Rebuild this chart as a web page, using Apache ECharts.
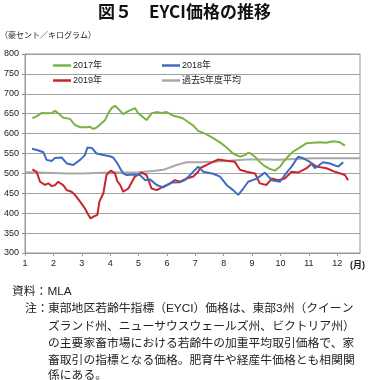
<!DOCTYPE html>
<html><head><meta charset="utf-8">
<script src="https://cdn.jsdelivr.net/npm/echarts@6/dist/echarts.min.js"></script>
<style>html,body{margin:0;padding:0;background:#fff}#c{width:369px;height:380px}</style>
</head><body><div id="c"></div>
<script>
const xTicks = [1,2,3,4,5,6,7,8,9,10,11,12];
const yTicks = [300,350,400,450,500,550,600,650,700,750,800];

const x2017 = [1.26,1.45,1.59,1.8,1.95,2.06,2.17,2.35,2.58,2.76,2.94,3.15,3.29,3.4,3.5,3.64,3.82,3.93,4.05,4.17,4.26,4.46,4.6,4.87,4.99,5.15,5.28,5.46,5.64,5.8,5.99,6.22,6.45,6.57,6.81,6.93,7.1,7.4,7.6,7.87,8.1,8.33,8.57,8.75,8.86,8.95,9.1,9.27,9.39,9.6,9.8,9.86,10.0,10.1,10.3,10.45,10.7,10.92,11.15,11.39,11.6,11.86,12.09,12.27];
const y2017 = [638,645,652,651,652,657,651,640,637,622,616,616,617,612,614,622,634,651,664,670,664,649,655,664,651,642,634,651,654,652,654,645,641,638,626,620,607,598,590,578,565,550,542,546,552,550,542,529,521,512,507,504,518,529,545,555,566,576,577,578,577,581,578,570];

const x2018 = [1.25,1.45,1.65,1.76,1.94,2.06,2.29,2.35,2.47,2.7,2.76,2.94,3.11,3.2,3.35,3.52,3.76,3.99,4.1,4.23,4.35,4.46,4.58,4.8,5.05,5.23,5.4,5.64,5.87,6.17,6.46,6.63,6.87,7.1,7.28,7.63,7.87,8.1,8.33,8.51,8.69,8.86,9.16,9.45,9.69,9.98,10.15,10.39,10.62,10.8,11.04,11.21,11.5,11.74,12.03,12.1,12.21];
const y2018 = [562,558,553,534,531,539,540,538,525,521,521,534,546,565,564,550,546,543,540,528,513,500,496,497,496,483,485,471,465,477,478,483,500,517,504,499,492,471,458,446,462,479,487,502,483,479,496,517,542,538,529,513,528,525,517,518,528];

const x2019 = [1.26,1.41,1.53,1.7,1.82,1.94,2.05,2.17,2.35,2.47,2.64,2.76,2.94,3.11,3.23,3.31,3.46,3.55,3.62,3.76,3.87,4.02,4.17,4.25,4.35,4.46,4.64,4.87,5.11,5.28,5.46,5.64,5.87,6.11,6.28,6.46,6.69,6.93,7.1,7.16,7.51,7.81,8.1,8.39,8.57,8.81,9.1,9.27,9.51,9.69,9.92,10.15,10.39,10.62,10.92,11.1,11.27,11.62,11.92,12.27,12.38];
const y2019 = [510,504,479,471,475,468,470,479,470,458,454,446,429,412,396,387,393,396,429,450,496,507,500,481,471,454,462,492,502,496,462,458,467,475,483,479,487,492,504,513,525,535,532,529,509,504,500,475,471,487,483,487,504,502,513,525,517,513,504,496,483];

const xAvg = [1.0,1.5,2.0,2.5,3.0,3.5,4.0,4.5,5.0,5.5,5.87,6.34,6.69,7.16,7.63,8.2,8.81,9.4,9.98,10.5,11.15,12.0,12.8];
const yAvg = [503,502,501,500,500,501,502,502,503,506,509,521,528,528,529,532,535,535,534,536,538,538,538];

const names = ['2017年','2018年','2019年','過去5年度平均'];
const colors = ['#78b444','#3d6cc0','#c8262c','#a8a8a8'];

const zip = (xs, ys) => xs.map((x, i) => [x, ys[i]]);
const seriesData = [zip(x2017,y2017), zip(x2018,y2018), zip(x2019,y2019), zip(xAvg,yAvg)];

const numFont = "'Liberation Sans', 'Noto Sans CJK JP', sans-serif";
const jpFont = "'Liberation Sans', 'Noto Sans CJK JP', sans-serif";

const legendPos = [[53,61],[162,61],[53,76],[162,76]];

const notes = [
  '東部地区若齢牛指標（EYCI）価格は、東部3州（クイーン',
  'ズランド州、ニューサウスウェールズ州、ビクトリア州）',
  'の主要家畜市場における若齢牛の加重平均取引価格で、家',
  '畜取引の指標となる価格。肥育牛や経産牛価格とも相関関',
  '係にある。'
];
const noteY = [310, 327.5, 345, 362, 377];

const chart = echarts.init(document.getElementById('c'), null, {renderer:'canvas'});
const graphics = [
  {type:'text', left:'center', top:3, style:{text:'図５　EYCI価格の推移', font:"bold 17px 'Noto Sans CJK JP', sans-serif", fill:'#111'}},
  {type:'text', left:0, top:31, style:{text:'（豪セント／キログラム）', font:"8px 'Noto Sans CJK JP', sans-serif", fill:'#222'}},
  {type:'text', left:350, top:261, style:{text:'(月)', font:"bold 9px 'Liberation Sans', 'Noto Sans CJK JP', sans-serif", fill:'#222'}},
  {type:'text', left:12, top:286, style:{text:'資料：MLA', font:"11.8px " + jpFont, fill:'#222'}},
  {type:'text', left:25, top:noteY[0]-7, style:{text:'注：', font:"11.8px " + jpFont, fill:'#222'}}
];
notes.forEach((t, i) => graphics.push({type:'text', left:48, top:noteY[i]-7, style:{text:t, font:"11.8px " + jpFont, fill:'#222'}}));

chart.setOption({
  animation:false,
  backgroundColor:'#fff',
  grid:{left:25, right:9, top:54, bottom:127, show:true, borderColor:'#999', borderWidth:1},
  legend: names.map((n, i) => ({
    data:[{name:n, icon:'rect'}], left:legendPos[i][0], top:legendPos[i][1], itemWidth:18, itemHeight:2.5, itemGap:0,
    padding:0, textStyle:{fontSize:9, color:'#222', fontFamily:jpFont, padding:[0,0,0,-3]}
  })),
  xAxis:{
    type:'value', min:1, max:12.8, interval:1,
    axisLine:{lineStyle:{color:'#999'}},
    axisTick:{show:true, length:3, lineStyle:{color:'#999'}},
    splitLine:{show:false},
    axisLabel:{fontSize:9, color:'#222', fontFamily:numFont, margin:6, showMaxLabel:false,
      formatter: v => xTicks.includes(v) ? String(v) : ''}
  },
  yAxis:{
    type:'value', min:yTicks[0], max:yTicks[yTicks.length-1], interval:50,
    axisLine:{show:true, lineStyle:{color:'#999'}},
    axisTick:{show:true, length:3, lineStyle:{color:'#999'}},
    splitLine:{lineStyle:{color:'#a0a0a0', width:1}},
    axisLabel:{fontSize:9, color:'#222', fontFamily:numFont, margin:6}
  },
  series: names.map((n, i) => ({
    name:n, type:'line', data:seriesData[i], symbol:'none', smooth:false,
    lineStyle:{color:colors[i], width:2}, itemStyle:{color:colors[i]}, z: i===3 ? 1 : 3 + (3-i)
  })),
  graphic: graphics
});
</script></body></html>
